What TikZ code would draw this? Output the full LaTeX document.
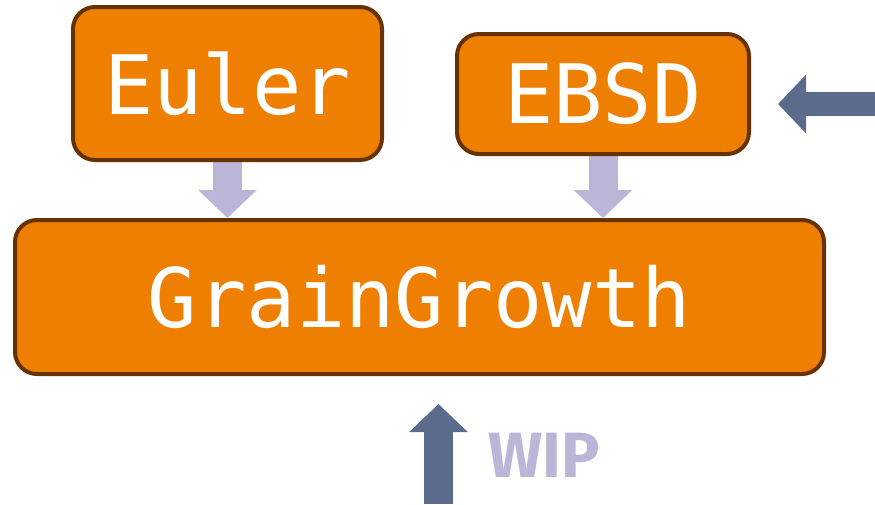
\documentclass[tikz,border=0pt]{standalone}
\usepackage{fontspec}
\newfontfamily\boxfont{DejaVu Sans Mono}
\newfontfamily\wipfont{Fira Sans}
\usetikzlibrary{arrows.meta,backgrounds}
\definecolor{boxorange}{HTML}{EE7F00}
\definecolor{boxbrown}{HTML}{663300}
\definecolor{lilac}{HTML}{BBB6D7}
\definecolor{slate}{HTML}{5A6B8C}

\begin{document}
\begin{tikzpicture}[x=1pt,y=-1pt,
  module/.style={draw=boxbrown,fill=boxorange,line width=4pt,rounded corners=22pt,
    text=white,inner sep=0pt,font=\boxfont\fontsize{82}{90}\selectfont},
  flow/.style={draw=lilac,line width=29pt,-{Triangle[width=57pt,length=28pt]}},
  todo/.style={draw=slate,line width=29pt,-{Triangle[width=57pt,length=28pt]}}]
\useasboundingbox (0,0) rectangle (875,504);
\node[module,minimum width=309pt,minimum height=153pt] (Euler) at (227.5,83.5) {Euler};
\node[module,minimum width=292pt,minimum height=120pt] (EBSD) at (603,94) {EBSD};
\node[module,minimum width=809pt,minimum height=154pt] (GG) at (419.5,297) {GrainGrowth};
\node[text=lilac,font=\wipfont\bfseries\fontsize{64}{70}\selectfont] (wiplabel) at (544,455) {WIP};
\coordinate (feed) at (875,104);
\coordinate (wip) at (438.5,504);
\begin{scope}[on background layer]
\draw[flow] (Euler.south) -- (Euler.south |- GG.north);
\draw[flow] (EBSD.south) -- (EBSD.south |- GG.north);
\end{scope}
\draw[todo,line width=24pt,shorten >=27pt] (feed) -- (feed -| EBSD.east);
\draw[todo,shorten >=28pt] (wip) -- (wip |- GG.south);
\end{tikzpicture}
\end{document}
